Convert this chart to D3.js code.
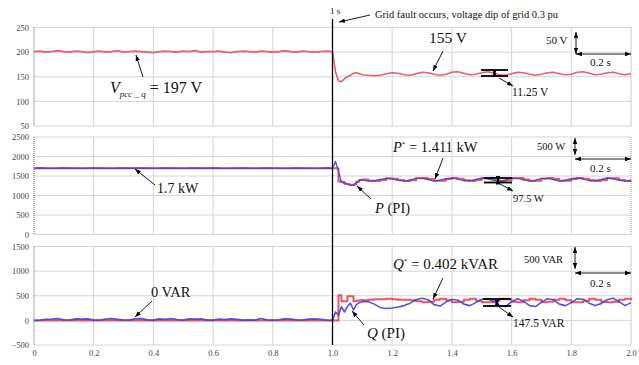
<!DOCTYPE html>
<html>
<head>
<meta charset="utf-8">
<script src="https://cdn.jsdelivr.net/npm/d3@7"></script>
<style>
  body { margin: 0; background: #fff; }
  svg text { font-family: "Liberation Serif", "Times New Roman", serif; }
</style>
</head>
<body>
<div id="chart"></div>
<script>
// sample grid (s): 0..0.98 every 0.02, 1.00..1.10 every 0.01, 1.12..2.00 every 0.02
var times = d3.range(0, 0.99, 0.02).concat(d3.range(1.0, 1.105, 0.01), d3.range(1.12, 2.001, 0.02));

// V_pcc_q (V)
var vpcc = [
  201,202,200,201,203,201,200,202,201,199, 201,202,200,201,203,200,201,202,201,200,
  199,201,202,201,200,202,201,203,200,201, 201,202,200,199,201,202,201,200,202,201,
  200,201,203,201,200,202,201,200,201,202,
  201,160,142,140,146,150,153,157,158,156,154,
  153,152,153,156,158, 157,154,153,156,159, 158,155,153,155,159, 160,157,154,155,158,
  160,157,154,153,156, 159,158,155,153,155, 158,159,156,154,155, 159,160,157,154,155,
  158,159,156,154,156
];

// P* reference (W), red
var pRef = [
  1700,1700,1700,1700,1700,1700,1700,1700,1700,1700, 1700,1700,1700,1700,1700,1700,1700,1700,1700,1700,
  1700,1700,1700,1700,1700,1700,1700,1700,1700,1700, 1700,1700,1700,1700,1700,1700,1700,1700,1700,1700,
  1700,1700,1700,1700,1700,1700,1700,1700,1700,1700,
  1700,1700,1360,1350,1300,1290,1270,1280,1350,1400,1410,
  1380,1370,1400,1440,1430, 1400,1370,1390,1440,1450, 1420,1380,1380,1420,1450, 1430,1390,1370,1400,1440,
  1440,1400,1370,1390,1440, 1450,1410,1370,1380,1430, 1450,1420,1380,1380,1420, 1450,1430,1390,1370,1400,
  1440,1440,1400,1370,1380
];

// P (PI) measured (W), blue
var pPI = [
  1700,1705,1700,1695,1700,1705,1700,1700,1695,1700, 1705,1700,1700,1695,1700,1705,1700,1700,1705,1700,
  1695,1700,1705,1700,1700,1695,1700,1705,1700,1700, 1705,1700,1695,1700,1700,1705,1700,1695,1700,1705,
  1700,1700,1695,1700,1705,1700,1700,1695,1700,1705,
  1700,1870,1620,1340,1320,1290,1260,1260,1330,1390,1400,
  1370,1380,1410,1440,1420, 1390,1370,1400,1440,1440, 1410,1370,1390,1430,1450, 1420,1380,1380,1410,1450,
  1430,1390,1370,1400,1450, 1440,1400,1370,1390,1440, 1440,1410,1370,1390,1430, 1450,1420,1380,1380,1410,
  1450,1430,1390,1370,1390
];

// Q* reference (VAR), red
var qRef = [
  0,0,0,0,0,0,0,0,0,0, 0,0,0,0,0,0,0,0,0,0, 0,0,0,0,0,0,0,0,0,0, 0,0,0,0,0,0,0,0,0,0,
  0,0,0,0,0,0,0,0,0,0,
  0,0,510,390,390,490,490,390,400,410,410,
  420,430,430,440,430, 420,420,410,390,370, 380,420,440,410,370, 380,420,440,400,370,
  370,400,440,430,380, 370,410,440,420,370, 380,420,440,410,370, 370,400,440,420,380,
  370,380,420,440,410
];

// Q (PI) measured (VAR), blue
var qPI = [
  0,5,20,25,35,10,5,30,25,30, 5,5,25,35,20,5,10,30,35,10, 5,30,20,35,15,5,30,25,30,5,
  5,25,15,30,20,5,10,5,40,10, 5,10,30,25,10,5,25,30,20,5,
  0,170,110,280,170,280,350,210,320,360,380,
  380,330,260,240,250, 270,300,350,420,450, 420,320,290,370,430, 410,330,300,360,430,
  440,380,300,280,380, 440,390,300,280,370, 440,420,330,300,360, 440,430,350,300,340,
  420,450,380,300,360
];

var vTicks = [50, 100, 150, 200, 250];
var pTicks = [0, 500, 1000, 1500, 2000, 2500];
var qTicks = [-500, 0, 500, 1000, 1500];
var xTicks = [0, 0.2, 0.4, 0.6, 0.8, 1.0, 1.2, 1.4, 1.6, 1.8, 2.0];

var width = 639, height = 365;
var red = "#e8434f", blue = "#4040e0";
var serif = "'Liberation Serif', 'Times New Roman', serif";

var svg = d3.select("#chart").append("svg")
    .attr("width", width)
    .attr("height", height);

var defs = svg.append("defs");
defs.append("marker")
    .attr("id", "arr")
    .attr("viewBox", "0 0 8 6")
    .attr("refX", 8).attr("refY", 3)
    .attr("markerWidth", 6).attr("markerHeight", 4.5)
    .attr("markerUnits", "userSpaceOnUse")
    .attr("orient", "auto-start-reverse")
    .append("path").attr("d", "M0,0L8,3L0,6z").attr("fill", "#000");

var x = d3.scaleLinear().domain([0, 2]).range([34, 631]);

var panels = [
    { ticks: vTicks, range: [126, 27.5], series: [{ vals: vpcc, color: "#e2505c", w: 1.6, curve: d3.curveLinear }] },
    { ticks: pTicks, range: [234.5, 137], series: [
        { vals: pRef, color: red, w: 2, curve: d3.curveStepAfter },
        { vals: pPI, color: blue, w: 1.4, curve: d3.curveLinear }] },
    { ticks: qTicks, range: [345, 246.5], series: [
        { vals: qRef, color: red, w: 2, curve: d3.curveStepAfter },
        { vals: qPI, color: blue, w: 1.6, curve: d3.curveLinear }] }
];

panels.forEach(function (p) {
    var y = d3.scaleLinear().domain(d3.extent(p.ticks)).range(p.range);
    var g = svg.append("g");

    // grid
    g.selectAll(".hg").data(p.ticks).enter().append("line")
        .attr("x1", x(0)).attr("x2", x(2))
        .attr("y1", function (d) { return y(d); }).attr("y2", function (d) { return y(d); })
        .attr("stroke", "#d4d4d4").attr("stroke-width", 1);
    g.selectAll(".vg").data(xTicks.slice(1, -1)).enter().append("line")
        .attr("x1", function (d) { return x(d); }).attr("x2", function (d) { return x(d); })
        .attr("y1", p.range[1]).attr("y2", p.range[0])
        .attr("stroke", "#d4d4d4").attr("stroke-width", 1);
    g.append("line")
        .attr("x1", x(2)).attr("x2", x(2)).attr("y1", p.range[1]).attr("y2", p.range[0])
        .attr("stroke", "#999").attr("stroke-dasharray", "1,1");
    g.append("line")
        .attr("x1", x(0)).attr("x2", x(0)).attr("y1", p.range[1]).attr("y2", p.range[0])
        .attr("stroke", "#555").attr("stroke-dasharray", "1,1");

    // tick labels
    var ax = g.append("g").attr("transform", "translate(" + x(0) + ",0)")
        .call(d3.axisLeft(y).tickValues(p.ticks).tickSize(0).tickPadding(5).tickFormat(d3.format("d")));
    ax.attr("font-family", serif).attr("font-size", 8.5);
    ax.select(".domain").remove();
    ax.selectAll("text").attr("fill", "#444");

    p.series.forEach(function (s) {
        var line = d3.line()
            .x(function (d, i) { return x(times[i]); })
            .y(function (d) { return y(d); })
            .curve(s.curve);
        g.append("path").datum(s.vals)
            .attr("d", line)
            .attr("fill", "none")
            .attr("stroke", s.color)
            .attr("stroke-width", s.w)
            .attr("stroke-linejoin", "round")
            .attr("opacity", 0.9);
    });
});

// x axis labels
var xa = svg.append("g").attr("transform", "translate(0,345)")
    .call(d3.axisBottom(x).tickValues(xTicks).tickSize(0).tickPadding(5)
        .tickFormat(function (d) { return d === 0 ? "0" : d3.format(".1f")(d); }));
xa.attr("font-family", serif).attr("font-size", 8.5);
xa.select(".domain").remove();
xa.selectAll("text").attr("fill", "#444");

// fault line at 1 s
svg.append("line").attr("x1", x(1)).attr("x2", x(1)).attr("y1", 19).attr("y2", 345)
    .attr("stroke", "#000").attr("stroke-width", 1.3);

// annotation helpers
function txt(xp, yp, size) {
    return svg.append("text").attr("x", xp).attr("y", yp).style("font-size", size + "px").attr("fill", "#111");
}
function arrow(x1, y1, x2, y2) {
    svg.append("line").attr("x1", x1).attr("y1", y1).attr("x2", x2).attr("y2", y2)
        .attr("stroke", "#000").attr("stroke-width", 0.9).attr("marker-end", "url(#arr)");
}
function dbl(x1, y1, x2, y2) {
    svg.append("line").attr("x1", x1).attr("y1", y1).attr("x2", x2).attr("y2", y2)
        .attr("stroke", "#000").attr("stroke-width", 0.9)
        .attr("marker-end", "url(#arr)").attr("marker-start", "url(#arr)");
}
function bracket(x1, x2, y1, y2) {
    [y1, y2].forEach(function (yy) {
        svg.append("line").attr("x1", x1).attr("x2", x2).attr("y1", yy).attr("y2", yy)
            .attr("stroke", "#000").attr("stroke-width", 1.8);
    });
    dbl((x1 + x2) / 2, y1 + 0.5, (x1 + x2) / 2, y2 - 0.5);
}

// top
txt(330, 14, 9).text("1 s");
arrow(370, 15, 339, 22);
txt(375, 18, 10.5).text("Grid fault occurs, voltage dip of grid 0.3 pu");
txt(429, 43, 15.5).text("155 V");
arrow(443, 51, 433, 71);
txt(546, 44, 11).text("50 V");
dbl(576, 32, 576, 54);
dbl(576, 54, 631, 54);
txt(590, 66, 11).text("0.2 s");
bracket(481, 508, 70, 76);
arrow(499, 78, 513, 86);
txt(512, 96, 11.5).text("11.25 V");
var vt = txt(110, 93, 16);
vt.append("tspan").style("font-style", "italic").text("V");
vt.append("tspan").attr("dy", 4).style("font-size", "9px").style("font-style", "italic").text("pcc _ q");
vt.append("tspan").attr("dy", -4).text(" = 197 V");
arrow(143, 77, 136, 55);

// middle
var pt = txt(393, 152, 14.5);
pt.append("tspan").style("font-style", "italic").text("P");
pt.append("tspan").attr("dy", -6).style("font-size", "7px").text("*");
pt.append("tspan").attr("dy", 6).text(" = 1.411 kW");
arrow(443, 158, 435, 179);
txt(537, 150, 10.5).text("500 W");
dbl(575, 138, 575, 155);
dbl(575, 159, 631, 159);
txt(590, 172, 11).text("0.2 s");
bracket(484, 512, 178, 182.5);
arrow(500, 184, 513, 191);
txt(513, 202, 10.5).text("97.5 W");
txt(157, 193, 14).text("1.7 kW");
arrow(155, 185, 135, 169);
var ppi = txt(375, 213, 14.5);
ppi.append("tspan").style("font-style", "italic").text("P");
ppi.append("tspan").text(" (PI)");
arrow(371, 199, 357, 186);

// bottom
var qt = txt(393, 269, 15);
qt.append("tspan").style("font-style", "italic").text("Q");
qt.append("tspan").attr("dy", -6).style("font-size", "7px").text("*");
qt.append("tspan").attr("dy", 6).text(" = 0.402 kVAR");
arrow(443, 278, 433, 299);
txt(524, 263, 10.5).text("500 VAR");
dbl(575, 247, 575, 269);
dbl(575, 273, 631, 273);
txt(590, 287, 11).text("0.2 s");
bracket(483, 511, 299, 306);
arrow(499, 307, 513, 317);
txt(513, 327, 11.5).text("147.5 VAR");
var qpi = txt(367, 338, 15);
qpi.append("tspan").style("font-style", "italic").text("Q");
qpi.append("tspan").text(" (PI)");
arrow(364, 325, 352, 311);
txt(151, 297, 14.5).text("0 VAR");
arrow(152, 301, 135, 317);
</script>
</body>
</html>
